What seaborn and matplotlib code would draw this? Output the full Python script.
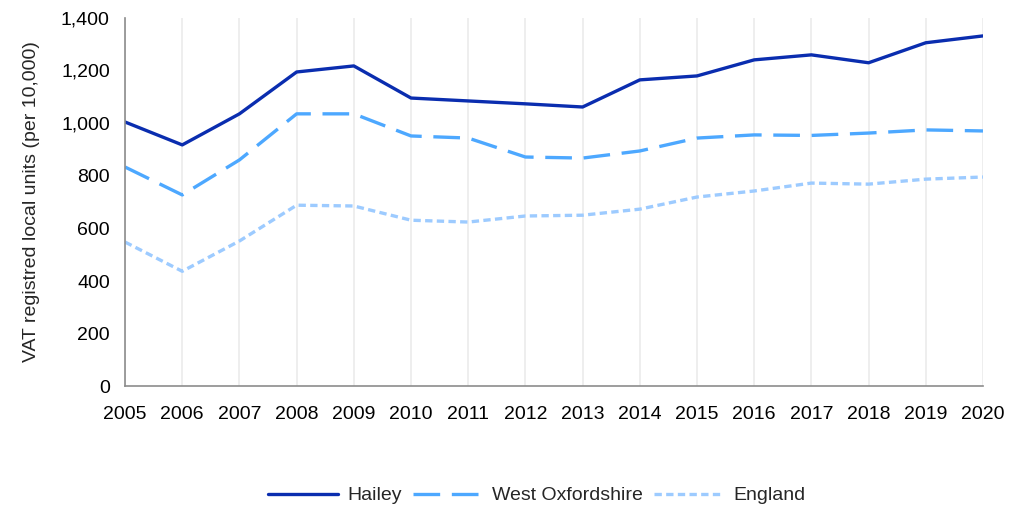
import pandas as pd
import numpy as np
import matplotlib.pyplot as plt
import seaborn as sns

# data
years = list(range(2005, 2021))
hailey = [1004, 917, 1035, 1194, 1217, 1095, 1084, 1073, 1061, 1164, 1179, 1240, 1259, 1229, 1305, 1331]
west_oxfordshire = [833, 727, 860, 1035, 1035, 951, 943, 871, 867, 894, 943, 955, 953, 962, 974, 970]
england = [548, 437, 552, 688, 685, 631, 624, 647, 650, 673, 719, 742, 772, 768, 787, 795]

series_names = ['Hailey', 'West Oxfordshire', 'England']
colors = ['#0A2DAF', '#4DA8FF', '#9DCBFF']

df = pd.DataFrame({'year': years, 'Hailey': hailey,
                   'West Oxfordshire': west_oxfordshire, 'England': england})
long_df = df.melt(id_vars='year', var_name='area', value_name='value')

sns.set_style('white')
plt.rcParams['font.family'] = ['Liberation Sans', 'DejaVu Sans']

fig, ax = plt.subplots(figsize=(10.25, 5.07), dpi=100)

sns.lineplot(data=long_df, x='year', y='value', hue='area', style='area',
             hue_order=series_names, style_order=series_names,
             palette=dict(zip(series_names, colors)),
             dashes={'Hailey': '', 'West Oxfordshire': (8, 3.5), 'England': (2.2, 1.3)},
             linewidth=2.4, ax=ax, legend=True)

ax.set_xlim(2005, 2020)
ax.set_ylim(0, 1400)
ax.set_xticks(years)
ax.set_yticks(np.arange(0, 1401, 200))
ax.yaxis.set_major_formatter(plt.FuncFormatter(lambda v, p: f'{int(v):,}'))
ax.grid(axis='x', color='#EBEBEB', linewidth=1.2)
ax.set_axisbelow(True)

for side in ['top', 'right']:
    ax.spines[side].set_visible(False)
for side in ['left', 'bottom']:
    ax.spines[side].set_color('#8C8C8C')
    ax.spines[side].set_linewidth(1.2)
ax.tick_params(axis='both', direction='out', length=5, width=1.2, color='#8C8C8C',
               labelsize=14, labelcolor='black')
ax.tick_params(axis='x', pad=9)
ax.tick_params(axis='y', pad=6)

ax.set_xlabel('')
ax.set_ylabel('VAT registred local units (per 10,000)', fontsize=14, labelpad=15)

handles, labels = ax.get_legend_handles_labels()
ax.legend(handles, labels, loc='upper center', bbox_to_anchor=(0.48, -0.225),
          ncol=3, frameon=False, fontsize=14, handlelength=3.6, columnspacing=0.55,
          handletextpad=0.5)

fig.subplots_adjust(left=0.122, right=0.959, top=0.965, bottom=0.238)
fig.savefig('out.png', dpi=100)
